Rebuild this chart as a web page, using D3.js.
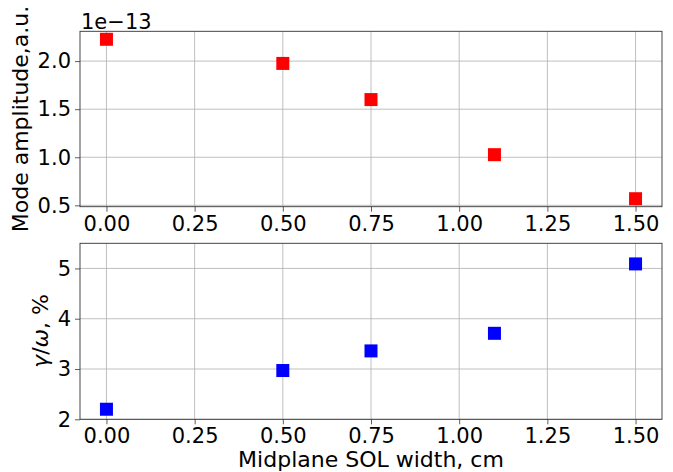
<!DOCTYPE html>
<html><head><meta charset="utf-8">
<script src="https://cdn.jsdelivr.net/npm/d3@7"></script>
<style>body{margin:0;background:#fff}text{font-family:"DejaVu Sans",sans-serif}</style>
</head><body><svg id="c" width="673" height="472"></svg>
<script>
const widths = [0.0, 0.5, 0.75, 1.1, 1.5];
const amplitude = [2.227, 1.976, 1.60, 1.027, 0.569]; // x 1e-13
const growth = [2.20, 2.97, 3.36, 3.71, 5.09];
const xTicks = [0, 0.25, 0.5, 0.75, 1.0, 1.25, 1.5];
const ampTicks = [0.5, 1.0, 1.5, 2.0];
const growthTicks = [2, 3, 4, 5];

const svg = d3.select("#c");
const L = 80, R = 662;
const x = d3.scaleLinear().domain([-0.075, 1.575]).range([L, R]);

function panel(top, bottom, yDomain, yTicks, yFmt, vals, color) {
  const y = d3.scaleLinear().domain(yDomain).range([bottom, top]);
  const g = svg.append("g");
  g.selectAll(".gx").data(xTicks).enter().append("line")
    .attr("x1", d => x(d)).attr("x2", d => x(d)).attr("y1", top).attr("y2", bottom)
    .attr("stroke", "#b0b0b0").attr("stroke-width", 0.8);
  g.selectAll(".gy").data(yTicks).enter().append("line")
    .attr("x1", L).attr("x2", R).attr("y1", d => y(d)).attr("y2", d => y(d))
    .attr("stroke", "#b0b0b0").attr("stroke-width", 0.8);
  const xa = g.append("g").attr("transform", `translate(0,${bottom})`)
    .call(d3.axisBottom(x).tickValues(xTicks).tickFormat(d3.format(".2f")).tickSize(5).tickPadding(4));
  const ya = g.append("g").attr("transform", `translate(${L},0)`)
    .call(d3.axisLeft(y).tickValues(yTicks).tickFormat(yFmt).tickSize(5).tickPadding(4));
  [xa, ya].forEach(a => {
    a.select(".domain").remove();
    a.selectAll("text").attr("font-size", 21).attr("fill", "#000").attr("font-family", "DejaVu Sans");
    a.selectAll("line").attr("stroke", "#333").attr("stroke-width", 0.8);
  });
  g.append("rect").attr("x", L).attr("y", top).attr("width", R - L).attr("height", bottom - top)
    .attr("fill", "none").attr("stroke", "#333").attr("stroke-width", 0.9);
  const s = 13;
  g.selectAll(".m").data(widths).enter().append("rect")
    .attr("x", (d) => x(d) - s / 2).attr("y", (d, i) => y(vals[i]) - s / 2)
    .attr("width", s).attr("height", s).attr("fill", color);
  return y;
}

panel(31.3, 206.7, [0.486, 2.31], ampTicks, d3.format(".1f"), amplitude, "#ff0000");
panel(243.3, 419.3, [2, 5.5], growthTicks, d3.format("d"), growth, "#0000ff");

svg.append("text").attr("x", 81).attr("y", 28.5).attr("font-size", 21).text("1e\u221213");

svg.append("text").attr("transform", "translate(28,119) rotate(-90)")
  .attr("text-anchor", "middle").attr("font-size", 22).text("Mode amplitude,a.u.");

const yl = svg.append("text").attr("transform", "translate(48,331) rotate(-90)")
  .attr("text-anchor", "middle").attr("font-size", 22);
yl.append("tspan").attr("font-style", "italic").text("\u03b3");
yl.append("tspan").text("/");
yl.append("tspan").attr("font-style", "italic").text("\u03c9");
yl.append("tspan").text(", %");

svg.append("text").attr("x", (L + R) / 2).attr("y", 467).attr("text-anchor", "middle")
  .attr("font-size", 22).text("Midplane SOL width, cm");
</script></body></html>
